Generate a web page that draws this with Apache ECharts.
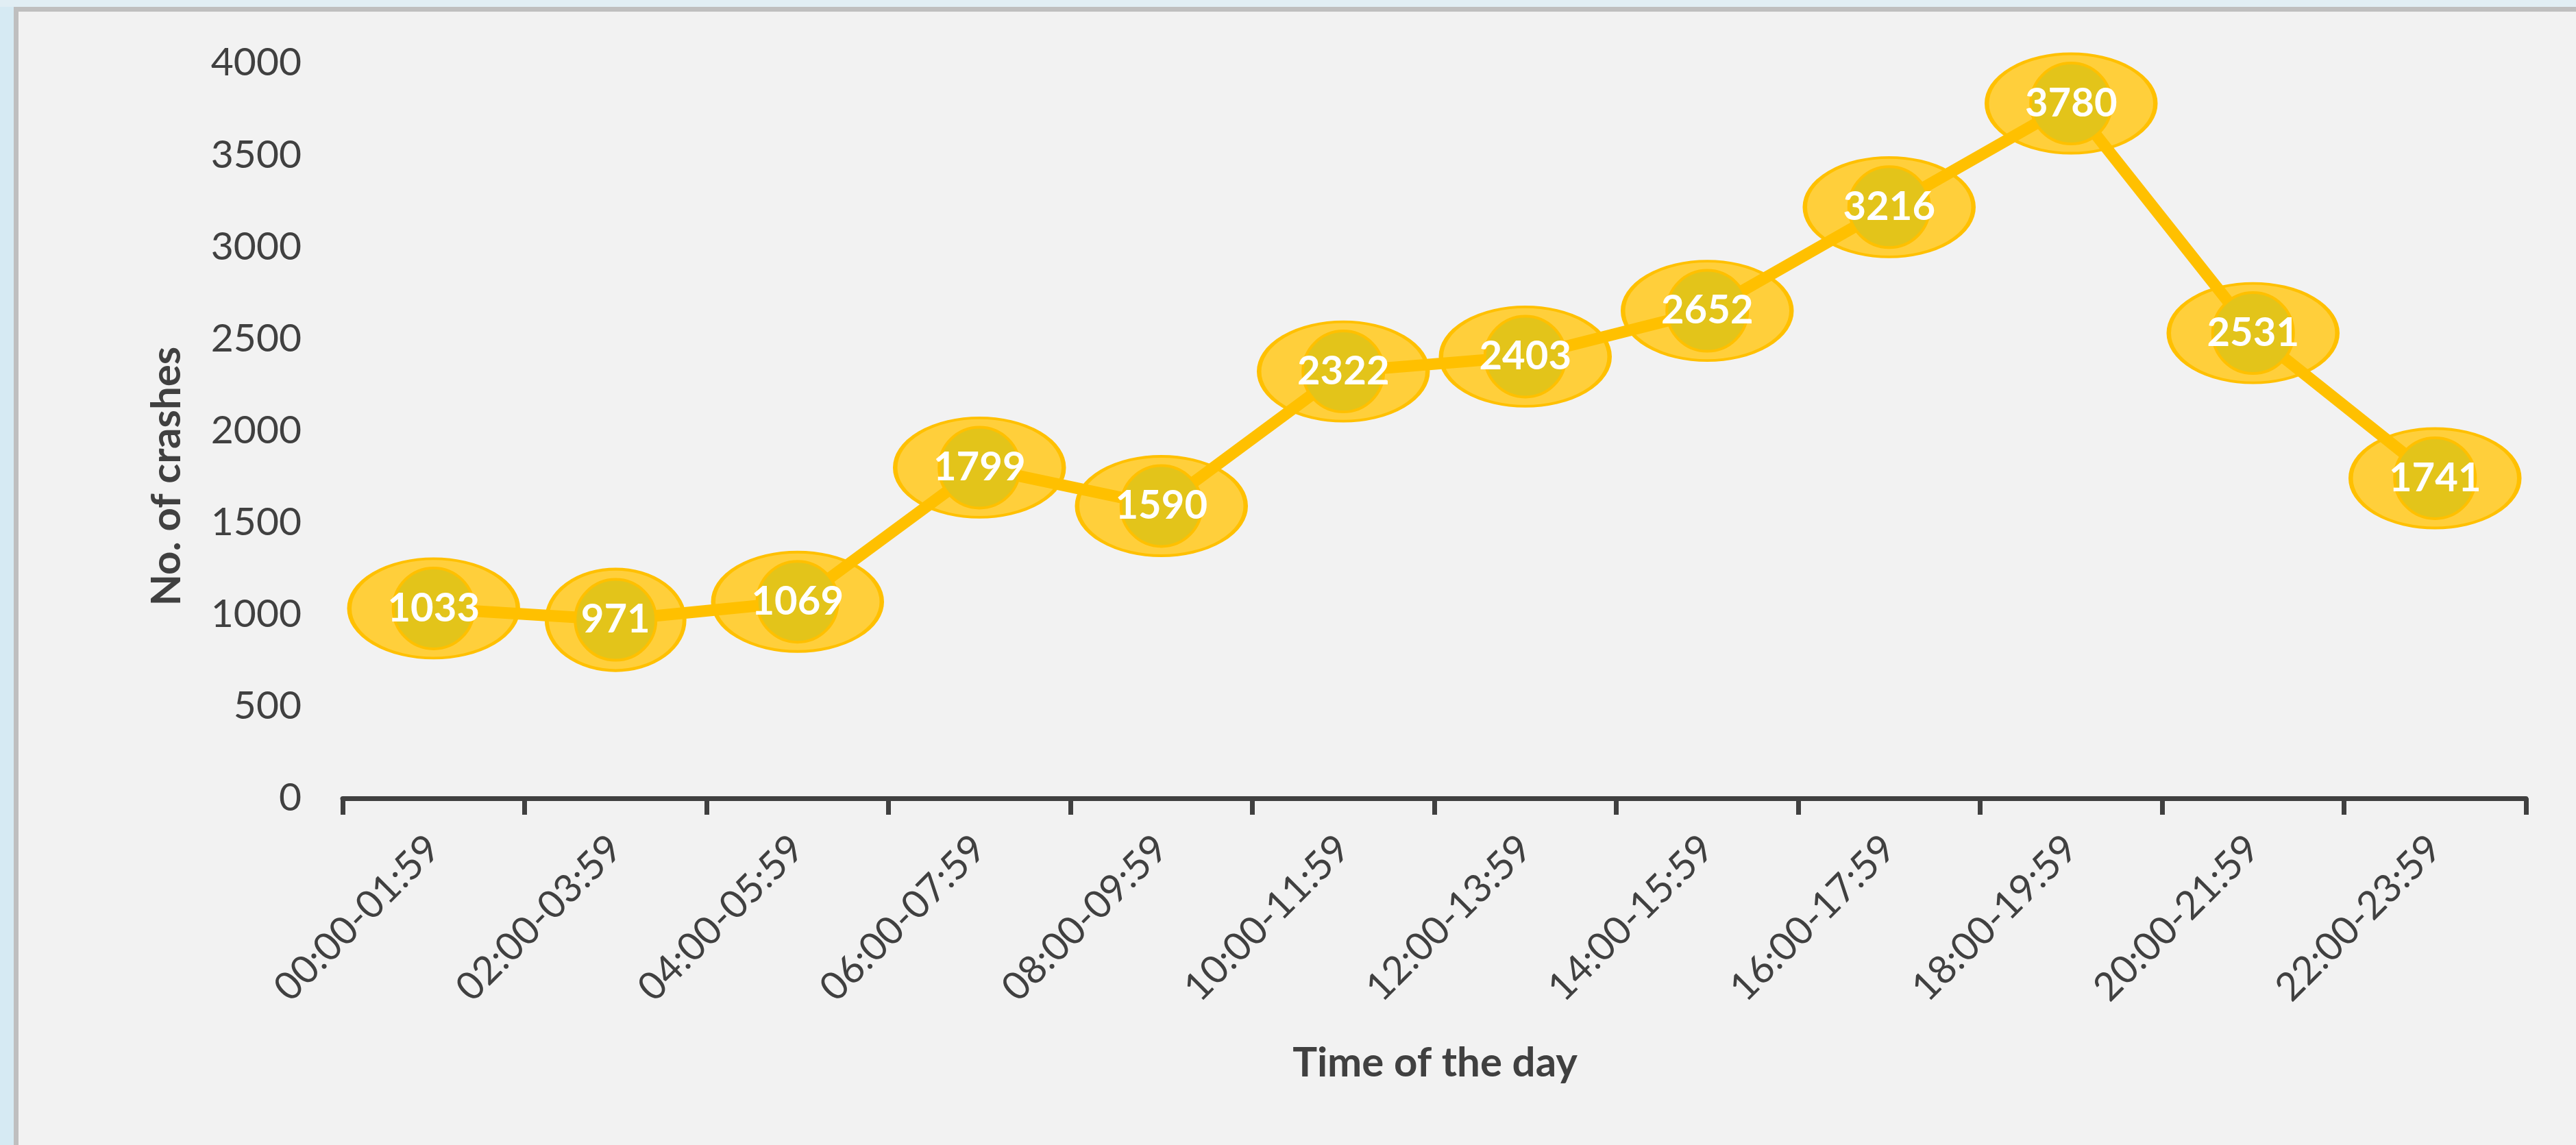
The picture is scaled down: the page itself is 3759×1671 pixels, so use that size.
<!DOCTYPE html>
<html>
<head>
<meta charset="utf-8">
<script src="https://cdn.jsdelivr.net/npm/echarts@6/dist/echarts.min.js"></script>
<style>
  html, body { margin: 0; padding: 0; width: 3759px; height: 1671px; overflow: hidden; background: #D6EAF3; }
  #topstrip { position: absolute; left: 0; top: 0; width: 3759px; height: 10px; background: #E1EEF4; }
  #panel { position: absolute; left: 20px; top: 10px; right: 0; bottom: 0; background: #F2F2F2;
           border-left: 7px solid #BFBFBF; border-top: 7px solid #BFBFBF; }
  #chart { position: absolute; left: 0; top: 0; width: 3759px; height: 1671px; }
</style>
</head>
<body>
<div id="topstrip"></div>
<div id="panel"></div>
<div id="chart"></div>
<script>
const categories = ['00:00-01:59','02:00-03:59','04:00-05:59','06:00-07:59','08:00-09:59','10:00-11:59',
                    '12:00-13:59','14:00-15:59','16:00-17:59','18:00-19:59','20:00-21:59','22:00-23:59'];
const crashes = [1033, 971, 1069, 1799, 1590, 2322, 2403, 2652, 3216, 3780, 2531, 1741];
const yTicks = { min: 0, max: 4000, interval: 500 };
const xTitle = 'Time of the day';
const yTitle = 'No. of crashes';

const textColor = '#404040';
const chart = echarts.init(document.getElementById('chart'), null, { renderer: 'canvas' });
chart.setOption({
  backgroundColor: 'transparent',
  animation: false,
  grid: { left: 500, right: 73, top: 92, bottom: 506, containLabel: false },
  xAxis: {
    type: 'category',
    data: categories,
    boundaryGap: true,
    axisLine: { show: true, lineStyle: { color: textColor, width: 7 } },
    axisTick: { show: true, length: 24, lineStyle: { color: textColor, width: 7 } },
    axisLabel: { rotate: 45, margin: 64, color: textColor, fontFamily: 'Lato', fontSize: 57, interval: 0 },
    splitLine: { show: false }
  },
  yAxis: {
    type: 'value',
    min: yTicks.min, max: yTicks.max, interval: yTicks.interval,
    axisLine: { show: false },
    axisTick: { show: false },
    splitLine: { show: false },
    axisLabel: { margin: 60, color: textColor, fontFamily: 'Lato', fontSize: 57,
                 formatter: function (v) { return String(v); } }
  },
  graphic: [
    { type: 'text', x: 2094, y: 1552, z: 10,
      style: { text: xTitle, font: 'bold 60px Lato', fill: textColor, align: 'center', verticalAlign: 'middle' } },
    { type: 'text', x: 244, y: 695, rotation: Math.PI / 2, z: 10,
      style: { text: yTitle, font: 'bold 60px Lato', fill: textColor, align: 'center', verticalAlign: 'middle' } }
  ],
  series: [
    {
      type: 'scatter',
      data: crashes,
      z: 1,
      symbol: 'circle',
      symbolSize: function (v) { return String(v).length > 3 ? [246, 145] : [201, 148]; },
      itemStyle: { color: '#FFCF3B', borderColor: '#FFC000', borderWidth: 5, opacity: 1 },
      label: { show: false },
      emphasis: { disabled: true }
    },
    {
      type: 'line',
      data: crashes,
      z: 2,
      symbol: 'circle',
      symbolSize: 118,
      showAllSymbol: true,
      lineStyle: { color: '#FFC000', width: 17 },
      itemStyle: { color: '#E3C41A', borderColor: '#FFC000', borderWidth: 4 },
      label: { show: true, position: 'inside', color: '#FFFFFF', fontFamily: 'Lato', fontWeight: 'bold', fontSize: 58 },
      emphasis: { disabled: true }
    }
  ]
});
</script>
</body>
</html>
